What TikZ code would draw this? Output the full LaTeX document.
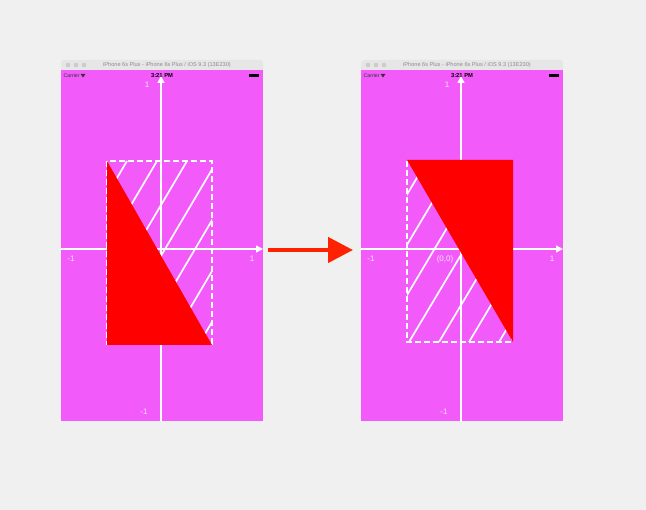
\documentclass[tikz,border=0pt]{standalone}
\usepackage{fontspec}
\setmainfont{Liberation Sans}
\usetikzlibrary{arrows.meta}
\definecolor{screenpink}{RGB}{242,90,250}
\definecolor{barbg}{RGB}{230,230,230}
\definecolor{pagebg}{RGB}{240,240,240}
\definecolor{arrowred}{RGB}{255,34,0}

\begin{document}
\begin{tikzpicture}[x=1pt, y=-1pt, every node/.style={inner sep=0pt},
	screen/.style={fill=screenpink, minimum width=202pt, minimum height=351pt, anchor=north west, outer sep=0pt},
	axis/.style={white, line width=1.5pt, -{Triangle[length=7pt,width=7pt]}},
	ticklbl/.style={font=\fontsize{8}{9}\selectfont, white!85!screenpink},
	dashframe/.style={white, line width=1.8pt, dash pattern=on 6pt off 3pt},
	hatch/.style={white, line width=1.7pt},
	redpart/.style={fill=red},
	bigarrow/.style={arrowred, line width=4.5pt, -{Triangle[length=25pt,width=25pt]}, shorten <=5pt, shorten >=8pt}]
	\fill[pagebg] (0,0) rectangle (646,510);
	% the two simulator windows
	\foreach \ox/\p in {0/l, 300/r} {
		\begin{scope}[xshift=\ox pt]
			\fill[barbg, rounded corners=3pt] (61,73) rectangle (263,60);
			\foreach \cx in {68,76,84} \fill[gray!40] (\cx,65) circle (2.3pt);
			\node[font=\fontsize{5.6}{6}\selectfont, gray!90] (\p-title) at (167,65) {iPhone 6s Plus - iPhone 6s Plus / iOS 9.3 (13E230)};
			\node[screen] (\p-screen) at (61,70) {};
			\node[font=\fontsize{5.2}{6}\selectfont, anchor=west, black!80] (\p-carrier) at (63.5,75.5) {Carrier};
			\fill[black!80] (83,77.5) -- (80.6,74) -- (85.4,74) -- cycle;
			\node[font=\bfseries\fontsize{5.8}{6}\selectfont] (\p-clock) at (162,75.5) {3:21 PM};
			\fill[black] (249,74) rectangle (259,77.3);
			\draw[axis] (61,249) -- (263,249);
			\draw[axis] (161,421) -- (161,76);
			\node[ticklbl] (\p-ytop) at (147,85) {1};
			\node[ticklbl] (\p-xneg) at (71,259) {-1};
			\node[ticklbl] (\p-xpos) at (252,259) {1};
			\node[ticklbl] (\p-yneg) at (144,412) {-1};
		\end{scope}
	}
	% before
	\begin{scope}
		\clip (107,161) rectangle (212,344);
		\foreach \t in {20,50,...,230} \draw[hatch] ({107+\t-108},344) -- ({107+\t},161);
	\end{scope}
	\draw[dashframe] (107,161) rectangle (212,344);
	\fill[redpart] (107,161) -- (107,345) -- (212,345) -- cycle;
	% after
	\begin{scope}
		\clip (407,161) rectangle (512,342);
		\foreach \t in {20,50,...,230} \draw[hatch] ({407+\t-108},342) -- ({407+\t},161);
	\end{scope}
	\draw[dashframe] (407,161) rectangle (512,342);
	\fill[redpart] (407,160) -- (513,160) -- (513,342) -- cycle;
	\node[ticklbl] (r-origin) at (445,259) {(0,0)};
	\draw[bigarrow] ([yshift=-4.5pt]l-screen.east) -- ([yshift=-4.5pt]r-screen.west);
\end{tikzpicture}
\end{document}
